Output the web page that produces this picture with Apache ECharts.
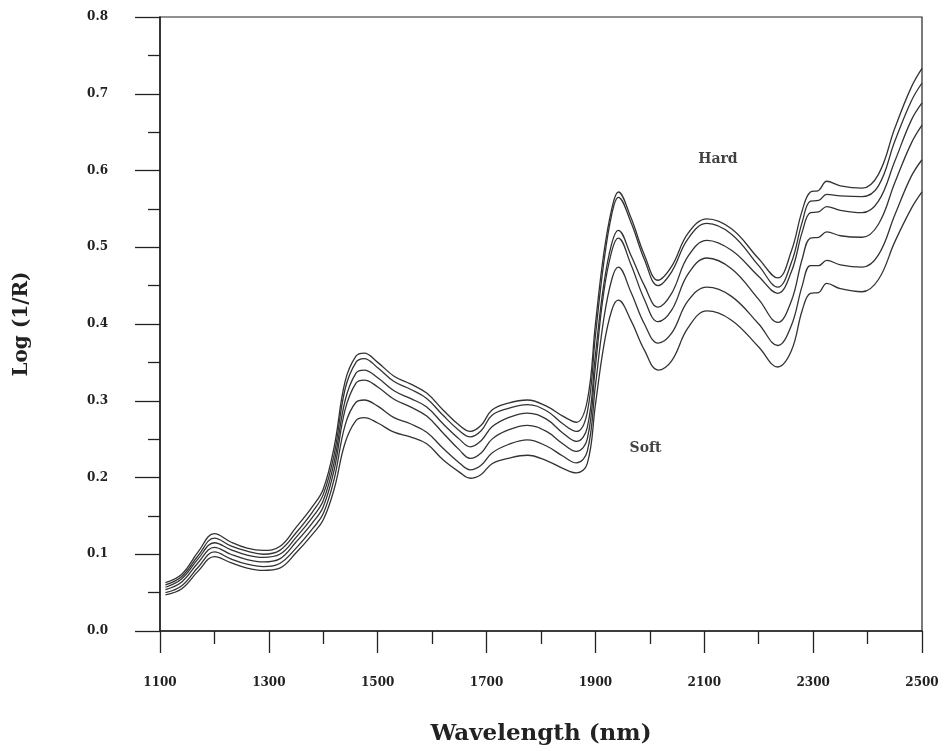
<!DOCTYPE html>
<html>
<head>
<meta charset="utf-8">
<script src="https://cdn.jsdelivr.net/npm/echarts@6/dist/echarts.min.js"></script>
<style>html,body{margin:0;padding:0;background:#fff;}#c{width:945px;height:751px;}</style>
</head>
<body>
<div id="c"></div>
<script>
const wavelengths = [1110,1140,1170,1200,1230,1260,1290,1320,1350,1380,1400,1420,1440,1460,1475,1500,1530,1560,1590,1620,1650,1670,1690,1710,1740,1775,1810,1840,1865,1885,1900,1915,1930,1942,1965,1990,2015,2040,2070,2105,2150,2200,2235,2260,2280,2295,2310,2325,2350,2390,2420,2450,2480,2500];

const curveA = [.063,.074,.103,.127,.116,.108,.105,.110,.135,.162,.185,.240,.325,.358,.362,.350,.332,.322,.310,.288,.268,.260,.268,.288,.297,.301,.293,.280,.272,.300,.400,.490,.550,.572,.539,.490,.457,.475,.518,.537,.524,.485,.460,.495,.548,.572,.574,.586,.580,.577,.595,.655,.708,.733];
const curveB = [.060,.071,.098,.121,.111,.104,.100,.105,.128,.155,.178,.230,.315,.350,.355,.343,.325,.315,.303,.281,.261,.253,.261,.281,.290,.295,.287,.270,.260,.285,.385,.478,.543,.565,.533,.484,.450,.468,.511,.531,.517,.476,.448,.480,.533,.560,.561,.569,.567,.566,.580,.638,.690,.714];
const curveC = [.057,.068,.094,.115,.106,.099,.096,.100,.122,.148,.170,.220,.300,.336,.340,.330,.313,.303,.292,.270,.250,.240,.248,.266,.278,.284,.276,.258,.247,.265,.360,.450,.505,.522,.490,.450,.422,.440,.488,.509,.496,.462,.440,.468,.520,.545,.546,.553,.548,.545,.560,.612,.665,.688];
const curveD = [.054,.064,.089,.109,.100,.093,.090,.094,.116,.141,.162,.210,.288,.323,.327,.318,.302,.292,.280,.258,.236,.225,.232,.250,.262,.268,.260,.244,.234,.250,.345,.440,.495,.512,.478,.432,.403,.418,.465,.486,.472,.432,.402,.430,.485,.512,.513,.520,.515,.513,.530,.584,.635,.659];
const curveE = [.050,.059,.083,.103,.094,.087,.084,.088,.108,.133,.153,.198,.268,.298,.301,.293,.278,.270,.259,.238,.219,.210,.216,.232,.243,.249,.241,.228,.219,.234,.320,.405,.458,.474,.442,.400,.375,.388,.430,.448,.436,.400,.372,.398,.450,.476,.476,.483,.477,.474,.490,.542,.592,.614];
const curveF = [.047,.055,.078,.097,.089,.082,.079,.082,.102,.126,.145,.185,.245,.274,.278,.271,.259,.253,.244,.223,.207,.199,.204,.218,.225,.229,.222,.212,.206,.218,.295,.370,.418,.431,.405,.366,.340,.352,.395,.417,.405,.370,.344,.365,.418,.440,.441,.453,.446,.442,.458,.507,.550,.572];

const curves = [curveA, curveB, curveC, curveD, curveE, curveF];
const annotations = [
  {text: 'Hard', wl: 2125, v: 0.614},
  {text: 'Soft', wl: 1992, v: 0.238}
];
const xTicks = {min: 1100, max: 2500, step: 200};
const yTicks = {min: 0, max: 0.8, step: 0.1};

const serif = '"DejaVu Serif", "Liberation Serif", serif';
const chart = echarts.init(document.getElementById('c'), null, {renderer: 'canvas'});

const series = curves.map(c => ({
  type: 'line',
  data: wavelengths.map((w, i) => [w, c[i]]),
  showSymbol: false,
  smooth: 0.4,
  lineStyle: {color: '#333', width: 1.3},
  silent: true,
  animation: false
}));

series.push({
  type: 'scatter',
  data: annotations.map(a => [a.wl, a.v, a.text]),
  symbolSize: 0,
  animation: false,
  silent: true,
  label: {
    show: true,
    position: 'inside',
    formatter: p => p.value[2],
    fontFamily: serif,
    fontWeight: 'bold',
    fontSize: 14,
    color: '#111'
  }
});

chart.setOption({
  backgroundColor: '#fff',
  animation: false,
  grid: {left: 160, right: 23, top: 17, bottom: 120, show: true, borderColor: '#222', borderWidth: 1.2},
  xAxis: {
    type: 'value', min: xTicks.min, max: xTicks.max, interval: xTicks.step,
    name: 'Wavelength (nm)', nameLocation: 'middle', nameGap: 92,
    nameTextStyle: {fontFamily: serif, fontWeight: 'bold', fontSize: 23, color: '#222'},
    axisLine: {show: true, lineStyle: {color: '#222', width: 1.5}},
    axisTick: {show: true, inside: false, length: 22, lineStyle: {color: '#222', width: 1.3}},
    minorTick: {show: true, splitNumber: 2, length: 13, lineStyle: {color: '#222', width: 1.3}},
    axisLabel: {margin: 46, fontFamily: serif, fontWeight: 'bold', fontSize: 12, color: '#222',
      formatter: v => String(v)},
    splitLine: {show: false}
  },
  yAxis: {
    type: 'value', min: yTicks.min, max: yTicks.max, interval: yTicks.step,
    name: 'Log (1/R)', nameLocation: 'middle', nameGap: 128, nameRotate: 90,
    nameTextStyle: {fontFamily: serif, fontWeight: 'bold', fontSize: 20, color: '#222'},
    axisLine: {show: true, lineStyle: {color: '#222', width: 1.5}},
    axisTick: {show: true, inside: false, length: 25, lineStyle: {color: '#222', width: 1.3}},
    minorTick: {show: true, splitNumber: 2, length: 12, lineStyle: {color: '#222', width: 1.3}},
    axisLabel: {margin: 52, fontFamily: serif, fontWeight: 'bold', fontSize: 12, color: '#222',
      formatter: v => v.toFixed(1)},
    splitLine: {show: false}
  },
  series: series
});
</script>
</body>
</html>
